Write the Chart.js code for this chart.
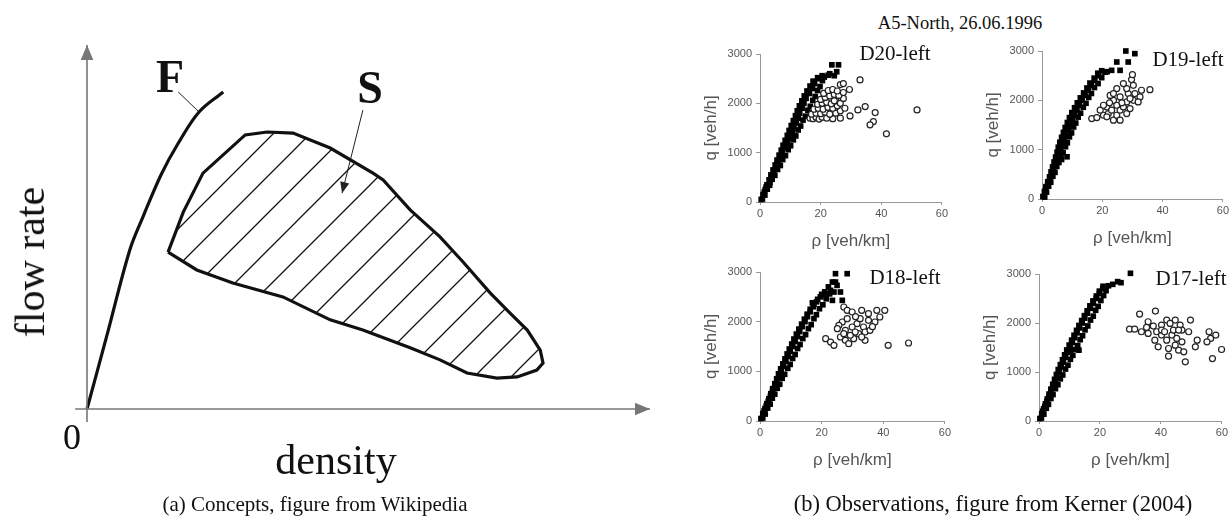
<!DOCTYPE html>
<html>
<head>
<meta charset="utf-8">
<script src="https://cdn.jsdelivr.net/npm/chart.js@4.4.0/dist/chart.umd.min.js"></script>
<style>
  body { margin: 0; background: #fff; width: 1231px; height: 520px; position: relative; overflow: hidden;
         font-family: "Liberation Serif", "Times New Roman", serif; color: #111; }
  .box { position: absolute; }
  .txt { position: absolute; white-space: nowrap; line-height: 1; transform: translate(-50%, -50%); }
</style>
</head>
<body>
<div class="box" style="left:0;top:0;width:660px;height:520px"><canvas id="concept"></canvas></div>

<div class="box" style="left:700px;top:40px;width:250px;height:212px"><canvas id="d20"></canvas></div>
<div class="box" style="left:982px;top:37px;width:249px;height:212px"><canvas id="d19"></canvas></div>
<div class="box" style="left:700px;top:258px;width:253px;height:213px"><canvas id="d18"></canvas></div>
<div class="box" style="left:979px;top:260px;width:251px;height:211px"><canvas id="d17"></canvas></div>

<div class="txt" style="left:30px;top:262px;font-size:42px;transform:translate(-50%,-50%) rotate(-90deg)">flow rate</div>
<div class="txt" style="left:336px;top:460px;font-size:42px">density</div>
<div class="txt" style="left:72px;top:437px;font-size:36px">0</div>
<div class="txt" style="left:170px;top:77px;font-size:46px;font-weight:bold">F</div>
<div class="txt" style="left:370px;top:88px;font-size:46px;font-weight:bold">S</div>

<div class="txt" style="left:960px;top:23px;font-size:18.5px">A5-North, 26.06.1996</div>
<div class="txt" style="left:895px;top:53px;font-size:21px">D20-left</div>
<div class="txt" style="left:1188px;top:59px;font-size:21px">D19-left</div>
<div class="txt" style="left:905px;top:277px;font-size:21px">D18-left</div>
<div class="txt" style="left:1191px;top:278px;font-size:21px">D17-left</div>

<div class="txt" style="left:315px;top:504px;font-size:21px">(a) Concepts, figure from Wikipedia</div>
<div class="txt" style="left:993px;top:504px;font-size:22.5px">(b) Observations, figure from Kerner (2004)</div>

<script>
// ---- (a) concept sketch, axes in arbitrary units 0..100 ----
const densAxis = [[-2.1, 0], [100, 0]];
const flowAxis = [[0, -3.6], [0, 100]];
const flowCurve = [[0, 0], [3.5, 20], [7.6, 43.7], [10, 53], [13.2, 64.5], [16.2, 73], [19.9, 81.6], [24.2, 87.1]];
const fLeader = [[16.2, 87.1], [19.9, 81.6]];
const syncRegion = [
  [14.4, 43.1], [17.1, 54.1], [20.6, 64.8], [28.1, 75.3], [32.0, 76.1], [36.6, 75.8], [43.2, 71.7],
  [50.8, 64.8], [52.6, 62.9], [57.4, 54.7], [62.7, 47.3], [66.8, 40.4], [71.6, 31.9], [75.1, 26.4],
  [78.2, 21.7], [80.5, 16.2], [81.0, 12.6], [79.9, 10.7], [76.4, 8.8], [72.8, 8.5], [67.5, 9.9],
  [62.7, 13.5], [57.4, 16.8], [49.0, 21.7], [43.2, 24.5], [34.8, 30.8], [25.9, 34.6], [19.5, 38.2],
  [14.4, 43.1]
];
const sArrow = [[49.0, 82.1], [45.3, 59.3]];

// ---- (b) observations, A5-North 26.06.1996: [density veh/km, flow veh/h] ----
const rhoTicks = [0, 20, 40, 60];
const qTicks = [0, 1000, 2000, 3000];

const d20Free = [
  [0.4, 50], [0.8, 60], [1.0, 150], [1.6, 140], [1.4, 200], [1.7, 250], [2.4, 260], [2.0, 300], [2.3, 350],
  [3.2, 340], [3.3, 400], [3.0, 450], [4.0, 460], [3.8, 500], [3.6, 550], [4.9, 540], [4.6, 600], [4.3, 650],
  [5.8, 660], [5.3, 700], [5.0, 750], [6.7, 740], [6.1, 800], [5.6, 850], [7.5, 860], [6.9, 900], [6.3, 950],
  [8.4, 940], [7.3, 1000], [7.0, 1050], [9.3, 1060], [8.5, 1100], [7.6, 1150], [10.1, 1140], [9.2, 1200],
  [8.3, 1250], [11.0, 1260], [10.0, 1300], [9.0, 1350], [11.8, 1340], [10.7, 1400], [9.6, 1450], [12.6, 1460],
  [11.2, 1500], [10.3, 1550], [13.4, 1540], [12.0, 1600], [11.0, 1650], [14.2, 1660], [12.6, 1700], [11.7, 1750],
  [15.0, 1740], [13.1, 1800], [12.3, 1850], [15.8, 1860], [13.9, 1900], [13.0, 1950], [16.6, 1940], [14.5, 2000],
  [13.8, 2050], [17.4, 2060], [15.2, 2100], [14.6, 2150], [18.2, 2140], [16.3, 2200], [15.5, 2250], [19.0, 2260],
  [17.3, 2300], [16.5, 2350], [19.8, 2340], [18.0, 2400], [17.5, 2450], [20.6, 2460], [19.3, 2500], [19.0, 2520],
  [21.2, 2530], [20.5, 2560], [22.5, 2570], [23.0, 2600], [24.5, 2560], [25.3, 2640], [23.7, 2780], [25.9, 2780]
];
const d20Sync = [
  [16.5, 1700], [17.5, 1690], [18.5, 1720], [19.5, 1680], [20.5, 1720], [22, 1700], [24, 1690], [17, 1780],
  [18.5, 1800], [20, 1790], [21.5, 1820], [23, 1780], [25, 1800], [26.5, 1850], [17.8, 1880], [19.2, 1900],
  [20.8, 1880], [22.4, 1920], [24, 1900], [25.5, 1950], [19, 1980], [20.5, 2000], [22, 2020], [23.5, 1990],
  [25, 2050], [26.5, 2000], [27.5, 2100], [20, 2080], [21.5, 2120], [23, 2150], [24.5, 2180], [26, 2160],
  [27.5, 2220], [21, 2200], [22.5, 2260], [24, 2280], [25.5, 2250], [26.5, 2380], [27.5, 2400], [29.5, 2280],
  [29.7, 1745], [32.3, 1867], [34.7, 1934], [38, 1813], [37.4, 1631], [36.3, 1564], [41.7, 1382], [51.8, 1867],
  [33, 2474], [28, 1900], [26.5, 1700], [24.5, 2050]
];

const d19Free = [
  [0.3, 50], [0.9, 40], [0.8, 150], [1.5, 140], [1.2, 200], [1.3, 250], [2.2, 260], [1.9, 300], [1.9, 350],
  [2.9, 340], [2.6, 400], [2.5, 450], [3.6, 460], [3.2, 500], [3.0, 550], [4.3, 540], [3.8, 600], [3.5, 650],
  [4.9, 660], [4.4, 700], [4.0, 750], [5.6, 740], [5.0, 800], [4.5, 850], [6.3, 860], [5.6, 900], [5.0, 950],
  [7.0, 940], [6.2, 1000], [5.4, 1050], [7.8, 1060], [6.8, 1100], [5.9, 1150], [8.4, 1140], [7.4, 1200],
  [6.5, 1250], [9.1, 1260], [8.0, 1300], [7.1, 1350], [9.8, 1340], [8.7, 1400], [7.7, 1450], [10.5, 1460],
  [9.4, 1500], [8.4, 1550], [11.2, 1540], [10.1, 1600], [9.1, 1650], [12.0, 1660], [10.8, 1700], [9.9, 1750],
  [12.8, 1740], [11.6, 1800], [10.8, 1850], [13.7, 1860], [12.4, 1900], [11.7, 1950], [14.6, 1940], [13.3, 2000],
  [12.7, 2050], [15.5, 2060], [14.3, 2100], [13.8, 2150], [16.4, 2140], [15.3, 2200], [14.9, 2250], [17.4, 2260],
  [16.3, 2300], [15.9, 2350], [18.6, 2340], [17.5, 2400], [17.3, 2450], [19.8, 2460], [18.8, 2500], [18.5, 2550],
  [20.9, 2570], [19.8, 2600], [21.6, 2580], [23.1, 2608], [25.9, 2608], [24.8, 2777], [27.8, 3000], [28.6, 2777],
  [30.8, 2946], [8.3, 856], [6.5, 800]
];
const d19Sync = [
  [16.5, 1631], [18.2, 1651], [20.4, 1698], [22, 1732], [23.7, 1597], [24.8, 1698], [25.9, 1800], [24.8, 1900],
  [27, 1867], [28.1, 1968], [30.3, 2000], [32.5, 2069], [33, 2204], [35.8, 2217], [29.7, 2420], [30.3, 2305],
  [28.6, 2137], [21.5, 1867], [23.7, 2000], [25.9, 2069], [28.1, 2238], [23.1, 1800], [19.3, 1800], [20.4, 1900],
  [22.6, 2100], [24.8, 2238], [27, 2339], [30.8, 2137], [29.2, 2035], [31.9, 1968], [25.9, 1597], [23.7, 2137],
  [21.5, 1665], [28.1, 1732], [29.2, 1833], [26.5, 1950], [22.4, 1950], [30.0, 2520]
];

const d18Free = [
  [0.3, 50], [0.9, 60], [0.9, 150], [1.7, 140], [1.3, 200], [1.6, 250], [2.5, 260], [2.0, 300], [2.2, 350],
  [3.3, 340], [2.7, 400], [2.9, 450], [4.0, 460], [3.4, 500], [3.5, 550], [4.8, 540], [4.1, 600], [4.1, 650],
  [5.6, 660], [4.8, 700], [4.8, 750], [6.4, 740], [5.5, 800], [5.4, 850], [7.2, 860], [6.2, 900], [6.0, 950],
  [8.0, 940], [6.9, 1000], [6.7, 1050], [9.0, 1060], [7.6, 1100], [7.4, 1150], [9.8, 1140], [8.4, 1200],
  [8.1, 1250], [10.6, 1260], [9.1, 1300], [8.8, 1350], [11.4, 1340], [9.8, 1400], [9.5, 1450], [12.2, 1460],
  [10.6, 1500], [10.3, 1550], [13.0, 1540], [11.4, 1600], [11.0, 1650], [13.9, 1660], [12.1, 1700], [11.8, 1750],
  [14.8, 1740], [12.9, 1800], [12.6, 1850], [15.7, 1860], [13.7, 1900], [13.5, 1950], [16.6, 1940], [14.6, 2000],
  [14.4, 2050], [17.5, 2060], [15.4, 2100], [15.3, 2150], [18.3, 2140], [16.3, 2200], [16.3, 2250], [19.3, 2260],
  [17.3, 2300], [17.5, 2350], [20.4, 2340], [18.4, 2400], [18.7, 2450], [21.5, 2460], [19.6, 2500], [20.0, 2550],
  [22.6, 2560], [21.0, 2600], [22.2, 2700], [21.5, 2496], [22.9, 2630], [24.0, 2597], [26.1, 2597], [23.5, 2429],
  [26.7, 2429], [23.5, 2798], [24.5, 2798], [25.0, 2731], [24.5, 2966], [28.3, 2966], [17.0, 2380]
];
const d18Sync = [
  [21.3, 1657], [22.9, 1590], [24, 1523], [27.2, 2295], [28.3, 2228], [29.9, 2195], [33, 2228], [35.2, 2161],
  [37.9, 2228], [40.5, 2228], [38.9, 2094], [37.3, 1993], [35.2, 2027], [33.6, 1893], [31.5, 1960], [29.9, 1893],
  [27.7, 1825], [26.1, 1691], [27.7, 1624], [28.8, 1557], [30.4, 1657], [32, 1758], [34.1, 1792], [35.7, 1825],
  [26.7, 1993], [25.6, 1926], [28.3, 2060], [32.5, 2060], [30.9, 1792], [29.3, 1725], [27.2, 1758], [25.1, 1859],
  [34.1, 1624], [33, 1691], [41.6, 1523], [48.2, 1570], [31.0, 2100], [36.5, 1900]
];

const d17Free = [
  [0.3, 50], [0.8, 60], [0.9, 150], [1.6, 140], [1.2, 200], [1.5, 250], [2.4, 260], [1.9, 300], [2.1, 350],
  [3.1, 340], [2.6, 400], [2.7, 450], [3.9, 460], [3.3, 500], [3.3, 550], [4.6, 540], [3.9, 600], [3.9, 650],
  [5.4, 660], [4.6, 700], [4.5, 750], [6.2, 740], [5.3, 800], [5.1, 850], [7.0, 860], [5.9, 900], [5.7, 950],
  [7.8, 940], [6.6, 1000], [6.3, 1050], [8.7, 1060], [7.3, 1100], [7.0, 1150], [9.5, 1140], [8.0, 1200],
  [7.7, 1250], [10.3, 1260], [8.7, 1300], [8.4, 1350], [11.1, 1340], [9.4, 1400], [9.1, 1450], [11.9, 1460],
  [10.2, 1500], [9.9, 1550], [12.7, 1540], [10.9, 1600], [10.7, 1650], [13.5, 1660], [11.7, 1700], [11.5, 1750],
  [14.3, 1740], [12.5, 1800], [12.3, 1850], [15.1, 1860], [13.3, 1900], [13.1, 1950], [16.0, 1940], [14.2, 2000],
  [14.0, 2050], [16.9, 2060], [15.0, 2100], [14.9, 2150], [17.8, 2140], [15.9, 2200], [15.8, 2250], [18.6, 2260],
  [16.8, 2300], [16.7, 2350], [19.4, 2340], [17.8, 2400], [17.7, 2450], [20.3, 2460], [18.8, 2500], [18.8, 2550],
  [21.2, 2560], [19.8, 2600], [19.8, 2650], [22.0, 2660], [20.9, 2700], [21.0, 2750], [22.8, 2760], [24.2, 2789],
  [25.8, 2844], [26.9, 2823], [30.0, 3014], [10.3, 1446], [13.1, 1446]
];
const d17Sync = [
  [29.7, 1875], [31.4, 1875], [33.6, 1821], [33, 2182], [38.2, 2244], [35.8, 2026], [37.5, 1937], [38.6, 1821],
  [40.2, 1957], [41.9, 2060], [43, 1991], [44.7, 2060], [46.3, 1957], [49.7, 2060], [40.2, 1753], [41.9, 1650],
  [43.6, 1753], [45.2, 1685], [46.9, 1616], [42.5, 1480], [42.5, 1323], [45.8, 1446], [47.5, 1412], [48, 1207],
  [49.1, 1821], [51.9, 1650], [51.3, 1514], [55.8, 1821], [56.3, 1685], [58, 1753], [56.9, 1275], [59.9, 1459],
  [55.1, 1616], [38, 1650], [39.1, 1514], [40.2, 1855], [35.8, 1787], [44.1, 1855], [46.9, 1855], [44.7, 1548],
  [35.3, 1910], [41.2, 1821], [45.8, 1855]
];

function toXY(list) {
  return list.map(([x, y]) => ({ x, y }));
}

// draws an arrow head at the last point of datasets that ask for one
const arrowHeads = {
  id: "arrowHeads",
  afterDatasetsDraw(chart) {
    const ctx = chart.ctx;
    chart.data.datasets.forEach((ds, i) => {
      if (!ds.arrowSize) return;
      const pts = chart.getDatasetMeta(i).data;
      const a = pts[pts.length - 2], b = pts[pts.length - 1];
      const ang = Math.atan2(b.y - a.y, b.x - a.x);
      const len = ds.arrowSize, half = ds.arrowSize * 0.42;
      ctx.save();
      ctx.translate(b.x, b.y);
      ctx.rotate(ang);
      ctx.beginPath();
      ctx.moveTo(0, 0);
      ctx.lineTo(-len, -half);
      ctx.lineTo(-len, half);
      ctx.closePath();
      ctx.fillStyle = ds.borderColor;
      ctx.fill();
      ctx.restore();
    });
  }
};

function hatchPattern() {
  const s = 37;
  const c = document.createElement("canvas");
  c.width = s; c.height = s;
  const g = c.getContext("2d");
  g.strokeStyle = "#111";
  g.lineWidth = 1.3;
  g.beginPath();
  for (let k = 0; k <= 2; k++) {
    g.moveTo(-2, k * s + 2);
    g.lineTo(s + 2, k * s - s - 2);
  }
  g.stroke();
  return g.createPattern(c, "repeat");
}

function lineSet(points, color, width, extra) {
  return Object.assign({
    data: toXY(points), showLine: true, pointRadius: 0, borderColor: color,
    borderWidth: width, fill: false, tension: 0, clip: false
  }, extra || {});
}

new Chart(document.getElementById("concept"), {
  type: "scatter",
  data: {
    datasets: [
      lineSet(densAxis, "#777", 1.6, { arrowSize: 15 }),
      lineSet(flowAxis, "#777", 1.6, { arrowSize: 15 }),
      lineSet(syncRegion, "#111", 3.2, { fill: "shape", backgroundColor: hatchPattern() }),
      lineSet(flowCurve, "#111", 3.2, { tension: 0.35 }),
      lineSet(fLeader, "#222", 1),
      lineSet(sArrow, "#222", 1, { arrowSize: 11 })
    ]
  },
  options: {
    responsive: true, maintainAspectRatio: false, animation: false,
    layout: { padding: { left: 87, right: 10, top: 45, bottom: 111 } },
    plugins: { legend: { display: false }, tooltip: { enabled: false } },
    scales: {
      x: { display: false, min: 0, max: 100 },
      y: { display: false, min: 0, max: 100 }
    }
  },
  plugins: [arrowHeads]
});

const tickFont = { family: "'Liberation Sans', Arial, sans-serif", size: 11 };
const titleFont = { family: "'Liberation Sans', Arial, sans-serif", size: 17 };

function makePanel(id, free, sync) {
  return new Chart(document.getElementById(id), {
    type: "scatter",
    data: {
      datasets: [
        { label: "synchronized flow", data: toXY(sync), order: 0, pointStyle: "circle", pointRadius: 3,
          borderWidth: 1.2, borderColor: "#222", backgroundColor: "#fff", clip: 4 },
        { label: "free flow", data: toXY(free), order: 1, pointStyle: "rect", pointRadius: 4,
          borderWidth: 0, backgroundColor: "#000", clip: 4 }
      ]
    },
    options: {
      responsive: true, maintainAspectRatio: false, animation: false,
      layout: { padding: { top: 14, right: 8, left: 0, bottom: 0 } },
      plugins: { legend: { display: false }, tooltip: { enabled: false } },
      scales: {
        x: {
          min: 0, max: 60,
          afterBuildTicks: (s) => { s.ticks = rhoTicks.map((v) => ({ value: v })); },
          afterFit: (s) => { s.height = 50; },
          grid: { drawOnChartArea: false, color: "#999", tickLength: 3 },
          border: { color: "#999", width: 1 },
          ticks: { color: "#555", font: tickFont, padding: 2, maxRotation: 0, callback: (v) => String(v) },
          title: { display: true, text: "ρ [veh/km]", color: "#555", font: titleFont, padding: { top: 0, bottom: 0 } }
        },
        y: {
          min: 0, max: 3000,
          afterBuildTicks: (s) => { s.ticks = qTicks.map((v) => ({ value: v })); },
          afterFit: (s) => { s.width = 60; },
          grid: { drawOnChartArea: false, color: "#999", tickLength: 4 },
          border: { color: "#999", width: 1 },
          ticks: { color: "#555", font: tickFont, padding: 4, callback: (v) => String(v) },
          title: { display: true, text: "q [veh/h]", color: "#555", font: titleFont, padding: { top: 1, bottom: 0 } }
        }
      }
    }
  });
}

makePanel("d20", d20Free, d20Sync);
makePanel("d19", d19Free, d19Sync);
makePanel("d18", d18Free, d18Sync);
makePanel("d17", d17Free, d17Sync);
</script>
</body>
</html>
